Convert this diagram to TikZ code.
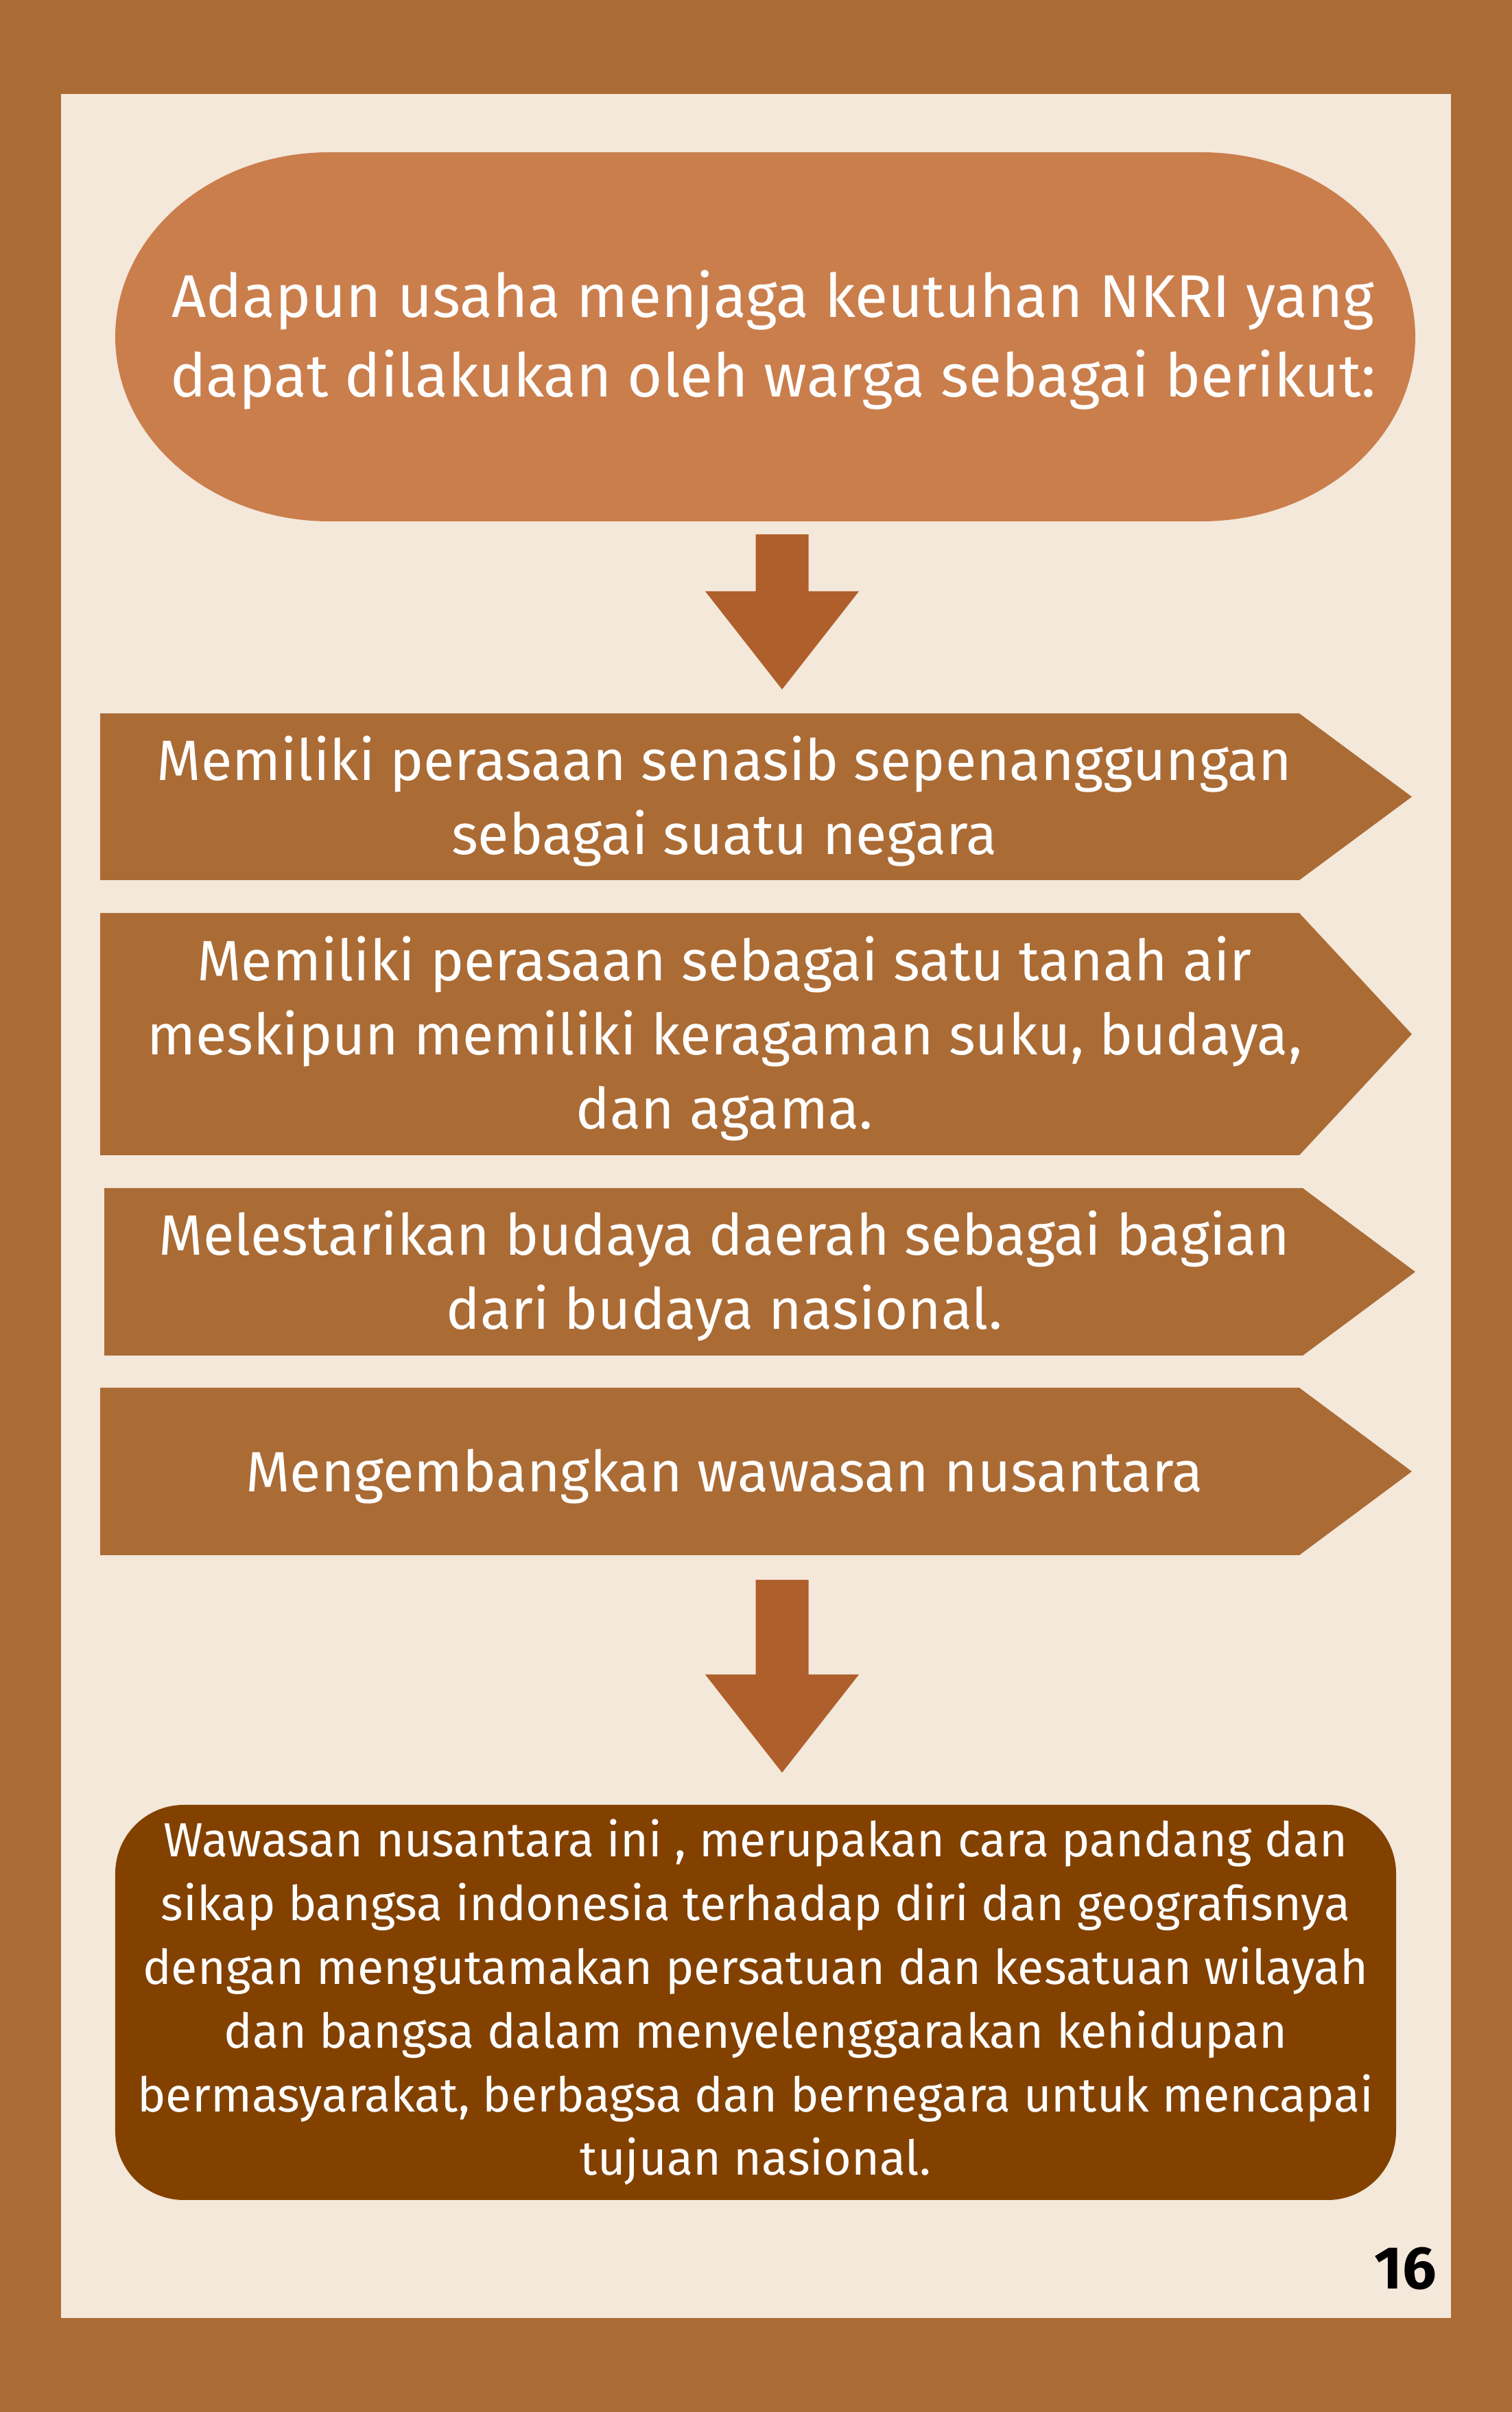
\documentclass[tikz,border=0pt]{standalone}
\usepackage{fontspec}
\setmainfont{Fira Sans}
\definecolor{bingkai}{HTML}{AB6B35}
\definecolor{krem}{HTML}{F4E8DA}
\definecolor{oranye}{HTML}{CA7E4C}
\definecolor{panahc}{HTML}{AF5F2C}
\definecolor{coklattua}{HTML}{834100}
\begin{document}
\begin{tikzpicture}[x=1mm,y=1mm,
    judul/.style={text=white,align=center,font=\fontsize{25}{33}\selectfont},
    butir/.style={text=white,align=center,font=\fontsize{23.6}{30.7}\selectfont},
    ringkas/.style={fill=coklattua,rounded corners=10mm,minimum width=186.7mm,
        minimum height=57.6mm,inner sep=0pt,text=white,align=center,
        font=\fontsize{19.9}{26.4}\selectfont},
    panah/.style={fill=panahc},
    chev/.style={fill=bingkai}]
            % page and panel
            \fill[bingkai] (0,0) rectangle (220.4,351.6);
            \fill[krem] (8.9,13.7) rectangle (211.5,337.9);
            % heading pill
            \fill[oranye] (48,329.4) -- (175.1,329.4)
                arc[start angle=90,end angle=-90,x radius=31.2,y radius=26.9]
                -- (48,275.6)
                arc[start angle=270,end angle=90,x radius=31.2,y radius=26.9] -- cycle;
            \node[judul] (intro) at (112.7,302) {Adapun usaha menjaga keutuhan NKRI yang\\dapat dilakukan oleh warga sebagai berikut:};
            % chevrons
            \fill[chev] (14.6,247.6) -- (189.4,247.6) -- (205.8,235.45) -- (189.4,223.3) -- (14.6,223.3) -- cycle;
            \node[butir] (item1) at (105.6,234.8) {Memiliki perasaan senasib sepenanggungan\\sebagai suatu negara};
            \fill[chev] (14.6,218.5) -- (189.4,218.5) -- (205.8,200.85) -- (189.4,183.2) -- (14.6,183.2) -- cycle;
            \node[butir] (item2) at (105.6,200.2) {Memiliki perasaan sebagai satu tanah air\\meskipun memiliki keragaman suku, budaya,\\dan agama.};
            \fill[chev] (15.2,178.4) -- (189.9,178.4) -- (206.3,166.2) -- (189.9,154) -- (15.2,154) -- cycle;
            \node[butir] (item3) at (105.6,165.6) {Melestarikan budaya daerah sebagai bagian\\dari budaya nasional.};
            \fill[chev] (14.6,149.3) -- (189.4,149.3) -- (205.8,137.1) -- (189.4,124.9) -- (14.6,124.9) -- cycle;
            \node[butir] (item4) at (105.6,136.4) {Mengembangkan wawasan nusantara};
            % arrows
            \coordinate (panah1) at (114,273.7);
            \coordinate (ujung1) at (114,251.1);
            \fill[panah] (panah1) ++(-3.85,0) -- ++(7.7,0) -- ++(0,-8.3) -- ++(7.35,0) -- (ujung1) -- ++(-11.2,14.3) -- ++(7.35,0) -- cycle;
            \coordinate (panah2) at (114,121.3);
            \coordinate (ujung2) at (114,93.2);
            \fill[panah] (panah2) ++(-3.85,0) -- ++(7.7,0) -- ++(0,-13.8) -- ++(7.35,0) -- (ujung2) -- ++(-11.2,14.3) -- ++(7.35,0) -- cycle;
            % summary box
            \node[ringkas] (summary) at (110.15,59.7) {Wawasan nusantara ini , merupakan cara pandang dan\\sikap bangsa indonesia terhadap diri dan geografisnya\\dengan mengutamakan persatuan dan kesatuan wilayah\\dan bangsa dalam menyelenggarakan kehidupan\\bermasyarakat, berbagsa dan bernegara untuk mencapai\\tujuan nasional.};
            \node[anchor=base east,font=\fontsize{25}{30}\selectfont\bfseries] (hal) at (210.6,17.9) {16};
\end{tikzpicture}
\end{document}
